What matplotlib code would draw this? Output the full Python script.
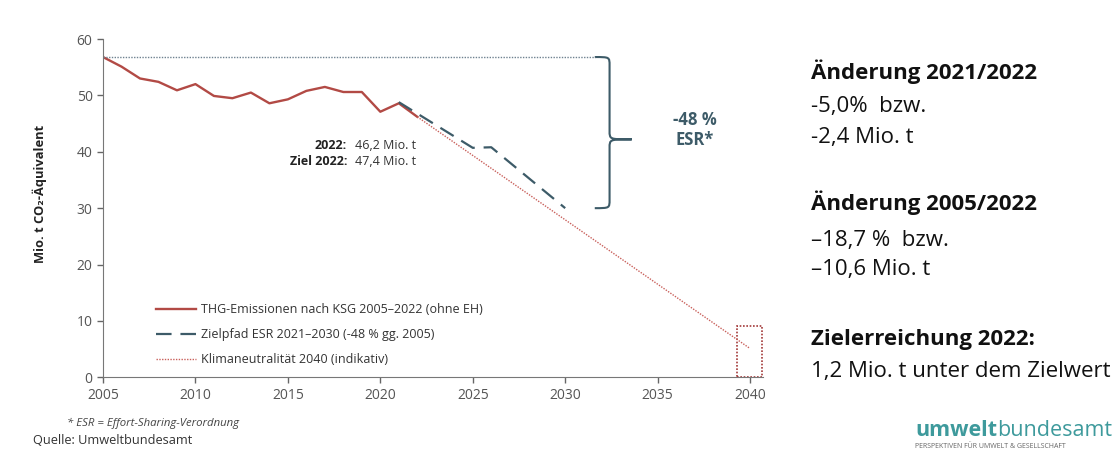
import matplotlib.pyplot as plt
from matplotlib.path import Path
from matplotlib.patches import PathPatch, Rectangle

plt.rcParams['font.family'] = ['Open Sans', 'DejaVu Sans']

# THG-Emissionen nach KSG (ohne EH), Mio. t CO2-Aeq.
years = list(range(2005, 2023))
emissions = [56.8, 55.1, 53.0, 52.4, 50.9, 52.0, 49.9, 49.5, 50.5, 48.6,
             49.3, 50.8, 51.5, 50.6, 50.6, 47.1, 48.6, 46.2]

# Zielpfad ESR 2021-2030
esr_years = [2021, 2025, 2026, 2030]
esr_values = [48.8, 40.7, 40.8, 30.0]

# Klimaneutralitaet 2040 (indikativ)
kn_years = [2022, 2040]
kn_values = [46.2, 5.1]

base_2005 = 56.8
esr_2030 = 30.0

xticks = [2005, 2010, 2015, 2020, 2025, 2030, 2035, 2040]
yticks = [0, 10, 20, 30, 40, 50, 60]

c_red = '#b24a45'
c_red_dot = '#c9605b'
c_esr = '#3d5b68'
c_grey = '#555555'

fig = plt.figure(figsize=(11.16, 4.53), dpi=100)
ax = fig.add_axes([0.0923, 0.1671, 0.5914, 0.7468])

ax.plot(years, emissions, color=c_red, lw=1.7,
        label='THG-Emissionen nach KSG 2005–2022 (ohne EH)')
ax.plot(esr_years, esr_values, color=c_esr, lw=1.6, ls=(0, (7, 4)),
        label='Zielpfad ESR 2021–2030 (-48 % gg. 2005)')
ax.plot(kn_years, kn_values, color=c_red_dot, lw=1.0, ls=(0, (1, 1)),
        label='Klimaneutralität 2040 (indikativ)')

# 2005 reference level
ax.plot([2005, 2031.6], [base_2005, base_2005], color='#6f8290', lw=1.0,
        ls=(0, (1, 1)))

# brace -48 % ESR
x0, xm, xt = 2031.6, 2032.4, 2033.6
ymid = 42.2
verts = [(x0, base_2005), (xm, base_2005), (xm, base_2005), (xm, base_2005 - 1.5),
         (xm, ymid + 1.5),
         (xm, ymid), (xm, ymid), (xt, ymid),
         (xm, ymid), (xm, ymid), (xm, ymid - 1.5),
         (xm, esr_2030 + 1.5),
         (xm, esr_2030), (xm, esr_2030), (x0, esr_2030)]
codes = [Path.MOVETO, Path.CURVE4, Path.CURVE4, Path.CURVE4,
         Path.LINETO,
         Path.CURVE4, Path.CURVE4, Path.CURVE4,
         Path.CURVE4, Path.CURVE4, Path.CURVE4,
         Path.LINETO,
         Path.CURVE4, Path.CURVE4, Path.CURVE4]
ax.add_patch(PathPatch(Path(verts, codes), fc='none', ec=c_esr, lw=1.5))
ax.text(2037.0, 43.9, '-48 %\nESR*', color=c_esr, fontsize=12, fontweight='bold',
        ha='center', va='center', linespacing=1.15)

# 2040 box
ax.add_patch(Rectangle((2039.3, 0), 1.35, 9.1, fill=False, ec='#a33a3a',
                       lw=1.2, ls=(0, (1, 1)), clip_on=False))

# 2022 labels
ax.text(2021.94, 41.2, '46,2 Mio. t', ha='right', va='center', fontsize=9, color='#333333')
ax.text(2018.2, 41.2, '2022:', ha='right', va='center', fontsize=9, fontweight='bold',
        color='#222222')
ax.text(2021.94, 38.35, '47,4 Mio. t', ha='right', va='center', fontsize=9, color='#333333')
ax.text(2018.2, 38.35, 'Ziel 2022:', ha='right', va='center', fontsize=9, fontweight='bold',
        color='#222222')

ax.set_xlim(2005, 2040.7)
ax.set_ylim(0, 60)
ax.set_xticks(xticks)
ax.set_yticks(yticks)
ax.tick_params(colors='#666666', labelcolor=c_grey, labelsize=10, length=4, width=1)
for s in ['top', 'right']:
    ax.spines[s].set_visible(False)
for s in ['left', 'bottom']:
    ax.spines[s].set_color('#777777')
ax.set_ylabel('Mio. t CO₂-Äquivalent', fontsize=9.3, fontweight='bold', color='#222222')
ax.yaxis.set_label_coords(-0.085, 0.543)

ax.legend(loc='lower left', bbox_to_anchor=(0.064, 0.0), frameon=False, fontsize=9,
          handlelength=3.2, handletextpad=0.4, labelspacing=0.96, labelcolor='#333333')

# footnotes
fig.text(0.06, 1 - 423 / 453, '* ESR = Effort-Sharing-Verordnung', fontsize=8.2,
         style='italic', color='#444444', va='center')
fig.text(0.03, 1 - 440 / 453, 'Quelle: Umweltbundesamt', fontsize=9.2, color='#333333',
         va='center')

# right-side panel
tx = 0.727
lines = [
    (71.7, 'Änderung 2021/2022', 'bold'),
    (106.7, '-5,0%  bzw.', 'normal'),
    (138.0, '-2,4 Mio. t', 'normal'),
    (203.0, 'Änderung 2005/2022', 'bold'),
    (240.0, '–18,7 %  bzw.', 'normal'),
    (270.0, '–10,6 Mio. t', 'normal'),
    (340.0, 'Zielerreichung 2022:', 'bold'),
    (371.7, '1,2 Mio. t unter dem Zielwert', 'normal'),
]
for ypx, txt, w in lines:
    fig.text(tx, 1 - ypx / 453, txt, fontsize=16, fontweight=w, color='#111111',
             va='center', ha='left')

# logo
c_logo = '#3e9a9c'
t1 = fig.text(915 / 1116, 1 - 430 / 453, 'umwelt', fontsize=15.5, fontweight='bold',
              color=c_logo, va='center')
fig.canvas.draw()
bb = t1.get_window_extent()
fig.text(bb.x1 / fig.bbox.width, 1 - 430 / 453, 'bundesamt', fontsize=15.5,
         color=c_logo, va='center')
fig.text(915 / 1116, 1 - 446 / 453, 'PERSPEKTIVEN FÜR UMWELT & GESELLSCHAFT', fontsize=5,
         color='#666666', va='center')

fig.savefig('out.png', dpi=100)
